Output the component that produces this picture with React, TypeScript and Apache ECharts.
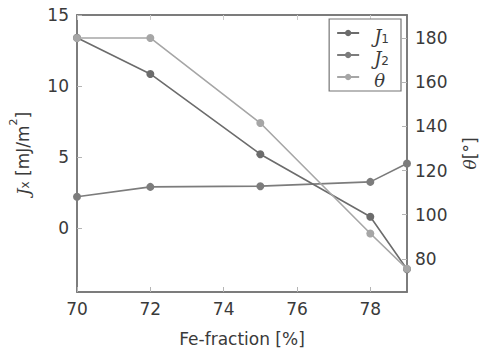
import React, { useEffect, useRef } from "react";
import * as echarts from "echarts";

const feFraction = [70, 72, 75, 78, 79];
const j1Values = [13.4, 10.85, 5.2, 0.8, -2.9];
const j2Values = [2.2, 2.9, 2.95, 3.25, 4.55];
const thetaValues = [180, 180, 141.5, 91.5, 75.5];
const xTicks = [70, 72, 74, 76, 78];
const leftTicks = [0, 5, 10, 15];
const rightTicks = [80, 100, 120, 140, 160, 180];
const seriesNames = ["J1", "J2", "theta"];

const pair = (ys: number[]) => feFraction.map((x, i) => [x, ys[i]]);

const axisColor = "#747474";
const textColor = "#3a3a3a";
const sans = "'DejaVu Sans', sans-serif";
const serif = "'DejaVu Serif', serif";
const fs = 17;

export default function App() {
  const ref = useRef<HTMLDivElement>(null);
  useEffect(() => {
    if (!ref.current) return;
    const chart = echarts.init(ref.current, undefined, { renderer: "svg" });
    const lineSeries = (name: string, data: number[], color: string, yAxisIndex: number, z: number) => ({
      name,
      type: "line",
      yAxisIndex,
      data: pair(data),
      symbol: "circle",
      symbolSize: 8,
      z,
      lineStyle: { color, width: 1.6 },
      itemStyle: { color },
    });
    const tickLine = { color: "#b5b5b5" };
    const mathRich = (size: number) => ({
      g: { width: 10, fontSize: size, lineHeight: size + 6 },
      i: { fontFamily: serif, fontStyle: "italic", fontSize: size, color: textColor, verticalAlign: "bottom", lineHeight: size + 6 },
      n: { fontFamily: sans, fontSize: size, color: textColor, verticalAlign: "bottom", lineHeight: size + 6 },
      s: { fontFamily: sans, fontSize: Math.round(size * 0.68), color: textColor, verticalAlign: "bottom", lineHeight: size + 1 },
      p: { fontFamily: sans, fontSize: Math.round(size * 0.65), color: textColor, verticalAlign: "top", lineHeight: size + 4 },
    });
    chart.setOption({
      animation: false,
      backgroundColor: "#ffffff",
      grid: {
        left: 77,
        right: 77,
        top: 15,
        bottom: 62,
        show: true,
        borderColor: axisColor,
        borderWidth: 1.5,
      },
      legend: {
        data: seriesNames,
        orient: "vertical",
        right: 85,
        top: 19,
        padding: [5, 12, 2, 7],
        itemGap: 1,
        itemWidth: 22,
        itemHeight: 8,
        borderColor: axisColor,
        borderWidth: 1.2,
        backgroundColor: "#fff",
        formatter: (n: string) =>
          n === "theta" ? "{g| }{i|θ}" : "{g| }{i|J}{s|" + (n === "J1" ? "1" : "2") + "}",
        textStyle: { color: textColor, rich: mathRich(18) },
      },
      xAxis: [
        {
          type: "value",
          min: 70,
          max: 79,
          name: "Fe-fraction [%]",
          nameLocation: "middle",
          nameGap: 38,
          nameTextStyle: { fontFamily: sans, fontSize: fs, color: textColor },
          axisLine: { show: true, onZero: false, lineStyle: { color: axisColor, width: 1.5 } },
          axisTick: { show: true, inside: true, length: 5, customValues: xTicks, lineStyle: tickLine },
          axisLabel: { customValues: xTicks, margin: 8, fontFamily: sans, fontSize: fs, color: textColor },
          splitLine: { show: false },
        },
        {
          type: "value",
          position: "top",
          min: 70,
          max: 79,
          axisLine: { show: true, onZero: false, lineStyle: { color: axisColor, width: 1.5 } },
          axisTick: { show: true, inside: true, length: 5, customValues: xTicks, lineStyle: { color: "#cccccc" } },
          axisLabel: { show: false },
          splitLine: { show: false },
        },
      ],
      yAxis: [
        {
          type: "value",
          min: -4.5,
          max: 15,
          position: "left",
          name: "{i|J}{s|x}{n| [mJ/m}{p|2}{n|]}",
          nameLocation: "middle",
          nameRotate: 90,
          nameGap: 46,
          nameTextStyle: { color: textColor, rich: mathRich(fs) },
          axisLine: { show: true, onZero: false, lineStyle: { color: axisColor, width: 1.5 } },
          axisTick: { show: true, inside: true, length: 5, customValues: leftTicks, lineStyle: tickLine },
          axisLabel: { customValues: leftTicks, margin: 8, fontFamily: sans, fontSize: fs, color: textColor },
          splitLine: { show: false },
        },
        {
          type: "value",
          min: 65,
          max: 190.4,
          position: "right",
          name: "{i|θ}{n|[°]}",
          nameLocation: "middle",
          nameRotate: 90,
          nameGap: 48,
          nameTextStyle: { color: textColor, rich: mathRich(fs) },
          axisLine: { show: true, onZero: false, lineStyle: { color: axisColor, width: 1.5 } },
          axisTick: { show: true, inside: true, length: 5, customValues: rightTicks, lineStyle: tickLine },
          axisLabel: { customValues: rightTicks, margin: 8, fontFamily: sans, fontSize: fs, color: textColor },
          splitLine: { show: false },
        },
      ],
      series: [
        lineSeries("J1", j1Values, "#6c6c6c", 0, 3),
        lineSeries("J2", j2Values, "#7c7c7c", 0, 2),
        lineSeries("theta", thetaValues, "#a6a6a6", 1, 4),
      ],
    });
    return () => chart.dispose();
  }, []);
  return <div ref={ref} style={{ width: 486, height: 354, position: "absolute", left: 0, top: 0 }} />;
}
